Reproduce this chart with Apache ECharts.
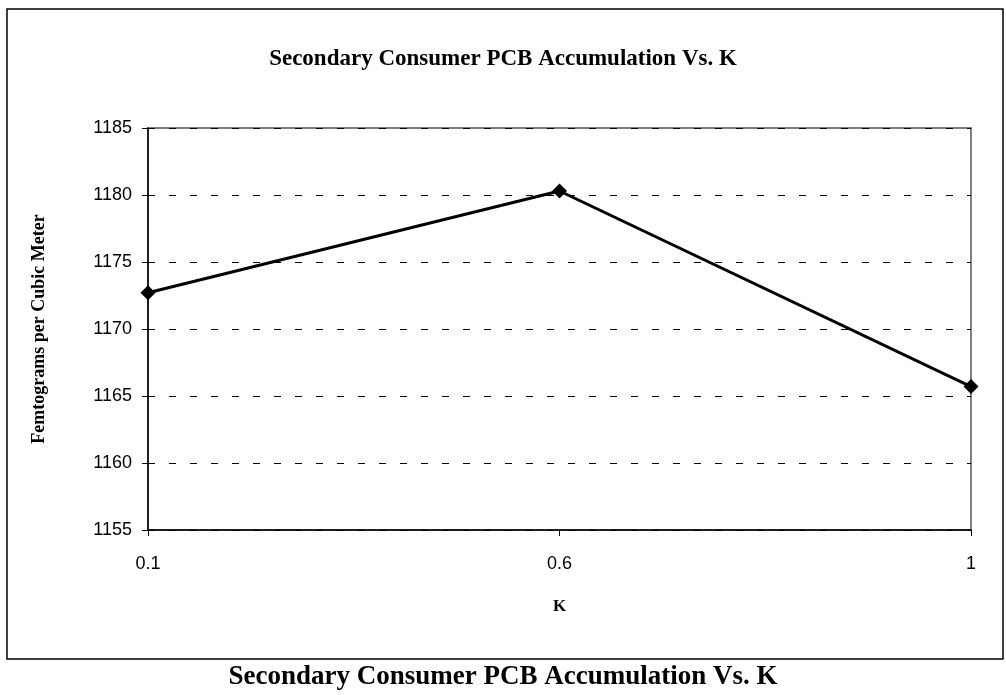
<!DOCTYPE html>
<html>
<head>
    <meta charset="utf-8">
    <script src="https://cdn.jsdelivr.net/npm/echarts@6/dist/echarts.min.js"></script>
    <style>
        body { margin: 0; background: #fff; }
    </style>
</head>
<body>
<div id="main" style="width: 1006px;height:695px;"></div>
<script type="text/javascript">
    // data
    const kValues = ['0.1', '0.6', '1'];
    const pcbValues = [1172.7, 1180.3, 1165.7];
    const yTicks = [1155, 1160, 1165, 1170, 1175, 1180, 1185];

    const myChart = echarts.init(document.getElementById('main'));

    const serif = '"Liberation Serif", "Times New Roman", serif';
    const sans = '"Liberation Sans", Arial, sans-serif';

    const option = {
        animation: false,
        backgroundColor: '#fff',
        title: {
            text: 'Secondary Consumer PCB Accumulation Vs. K',
            left: 'center',
            top: 43,
            textStyle: { fontFamily: serif, fontWeight: 'bold', fontSize: 23, color: '#000' }
        },
        graphic: [
            {
                type: 'rect',
                shape: { x: 7, y: 9, width: 996, height: 650 },
                style: { fill: 'none', stroke: '#000', lineWidth: 1.5 }
            },
            {
                type: 'text',
                left: 'center',
                top: 664,
                style: {
                    text: 'Secondary Consumer PCB Accumulation Vs. K',
                    font: 'bold 27px ' + serif,
                    fill: '#000'
                }
            }
        ],
        grid: {
            left: 148, right: 35, top: 128, bottom: 165,
            show: true,
            borderColor: '#555',
            borderWidth: 1.5
        },
        xAxis: {
            type: 'category',
            data: kValues,
            boundaryGap: false,
            name: 'K',
            nameLocation: 'middle',
            nameGap: 68,
            nameTextStyle: { fontFamily: serif, fontWeight: 'bold', fontSize: 17, color: '#000' },
            axisLine: { lineStyle: { color: '#000', width: 1.5 } },
            axisTick: { show: true, length: 6, lineStyle: { color: '#000' } },
            axisLabel: { fontFamily: sans, fontSize: 18, color: '#000', margin: 25 },
            splitLine: { show: false }
        },
        yAxis: {
            type: 'value',
            min: yTicks[0],
            max: yTicks[yTicks.length - 1],
            interval: 5,
            name: 'Femtograms per Cubic Meter',
            nameLocation: 'middle',
            nameGap: 100,
            nameRotate: 90,
            nameTextStyle: { fontFamily: serif, fontWeight: 'bold', fontSize: 18, color: '#000' },
            axisLine: { show: true, lineStyle: { color: '#000', width: 1.5 } },
            axisTick: { show: true, length: 6, lineStyle: { color: '#000' } },
            axisLabel: {
                fontFamily: sans, fontSize: 18, color: '#000', margin: 16,
                formatter: function (v) { return String(v); }
            },
            splitLine: { show: true, lineStyle: { color: '#000', type: [7, 14], width: 1 } }
        },
        series: [{
            type: 'line',
            data: pcbValues,
            symbol: 'diamond',
            symbolSize: 15,
            itemStyle: { color: '#000' },
            lineStyle: { color: '#000', width: 3 }
        }]
    };

    myChart.setOption(option);
</script>
</body>
</html>
